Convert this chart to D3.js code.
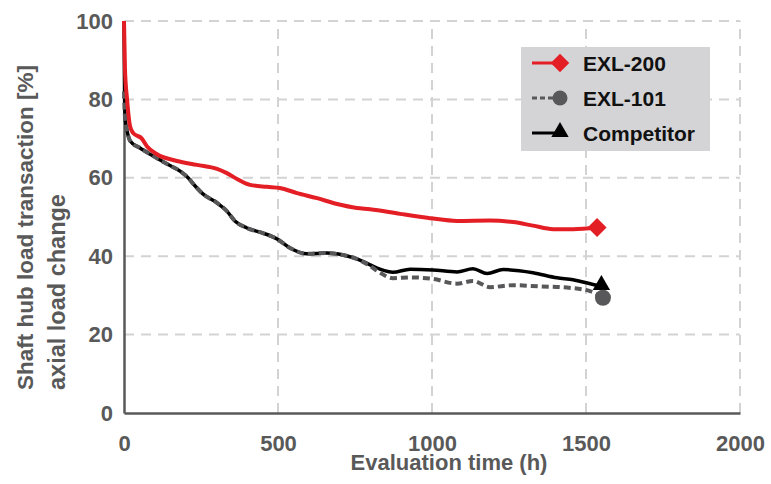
<!DOCTYPE html>
<html>
<head>
<meta charset="utf-8">
<script src="https://cdn.jsdelivr.net/npm/d3@7"></script>
<style>
  body { margin: 0; background: #fff; }
  svg { font-family: "Liberation Sans", Arial, sans-serif; font-weight: bold; }
</style>
</head>
<body>
<div id="chart"></div>
<script>
// Data: [hours, percent]
var exl200 = [[0,100],[3,88],[10,80],[20,73],[30,71.4],[58,70],[75,68],[107,66],[172,64.3],[237,63.3],
  [302,62.3],[334,61.2],[367,59.7],[409,58.2],[464,57.7],[506,57.4],[562,56.1],[627,54.8],[692,53.3],
  [756,52.3],[799,52],[896,50.8],[994,49.7],[1081,49],[1188,49.1],[1263,48.7],[1328,47.8],[1393,46.9],
  [1458,46.9],[1536,47.3]];

var exl101 = [[0,82],[2,77],[4,75],[10,72],[20,69.4],[52,67.6],[94,65.6],[140,63.5],[182,61.7],[208,60],
  [231,57.9],[256,55.9],[302,53.6],[334,51.5],[360,49],[399,47.2],[451,45.9],[497,44.4],[539,42.1],
  [594,40.6],[659,40.8],[711,40.3],[756,39.3],[799,37.5],[831,35.8],[873,34.4],[929,34.6],[1003,34.2],
  [1081,33],[1133,33.7],[1188,32.1],[1263,32.6],[1351,32.3],[1438,32],[1513,31.1],[1555,29.4]];

var competitor = [[0,100],[1,90],[2,80],[4,75],[10,72],[20,69.4],[52,67.6],[94,65.6],[140,63.5],[182,61.7],
  [208,60],[231,57.9],[256,55.9],[302,53.6],[334,51.5],[360,49],[399,47.2],[451,45.9],[497,44.4],
  [539,42.1],[594,40.6],[659,40.8],[711,40.3],[756,39.3],[799,37.8],[831,36.7],[873,35.9],[929,36.7],
  [1003,36.5],[1081,36],[1133,36.8],[1179,35.6],[1231,36.6],[1328,35.8],[1406,34.5],[1458,34],
  [1523,32.8],[1550,32.4]];

var xTicks = [0, 500, 1000, 1500, 2000];
var yTicks = [0, 20, 40, 60, 80, 100];
var legendNames = ["EXL-200", "EXL-101", "Competitor"];

var width = 771, height = 484;
var textGray = "#595959";

var svg = d3.select("#chart").append("svg")
    .attr("width", width)
    .attr("height", height);

var x = d3.scaleLinear().domain([0, 2000]).range([124, 740]);
var y = d3.scaleLinear().domain([0, 100]).range([413, 21]);

// grid
svg.append("g").selectAll("line")
    .data(yTicks.slice(1)).enter()
    .append("line")
    .attr("x1", x(0)).attr("x2", x(2000))
    .attr("y1", function(d) { return y(d); })
    .attr("y2", function(d) { return y(d); })
    .attr("stroke", "#d3d3d3").attr("stroke-width", 2)
    .attr("stroke-dasharray", "10,7");

svg.append("g").selectAll("line")
    .data(xTicks.slice(1)).enter()
    .append("line")
    .attr("x1", function(d) { return x(d); })
    .attr("x2", function(d) { return x(d); })
    .attr("y1", y(0)).attr("y2", y(100))
    .attr("stroke", "#d3d3d3").attr("stroke-width", 2)
    .attr("stroke-dasharray", "10,7");

// axes
var xAxis = svg.append("g")
    .attr("transform", "translate(0," + y(0) + ")")
    .call(d3.axisBottom(x).tickValues(xTicks).tickFormat(d3.format("d")).tickSize(0).tickPadding(22));
var yAxis = svg.append("g")
    .attr("transform", "translate(" + x(0) + ",0)")
    .call(d3.axisLeft(y).tickValues(yTicks).tickFormat(d3.format("d")).tickSize(0).tickPadding(11));

[xAxis, yAxis].forEach(function(g) {
  g.select(".domain").attr("stroke", textGray).attr("stroke-width", 2.5);
  g.selectAll("text")
    .attr("fill", textGray)
    .style("font-size", "22px")
    .style("font-weight", "bold")
    .style("font-family", "'Liberation Sans', Arial, sans-serif");
});

// axis titles
svg.append("text")
    .attr("x", 449).attr("y", 470)
    .attr("text-anchor", "middle")
    .attr("fill", textGray)
    .style("font-size", "22px")
    .text("Evaluation time (h)");

var yTitle = svg.append("text")
    .attr("transform", "translate(33,390) rotate(-90)")
    .attr("fill", textGray)
    .style("font-size", "22.5px");
yTitle.append("tspan").attr("x", 0).attr("y", 0).text("Shaft hub load transaction [%]");
yTitle.append("tspan").attr("x", 0).attr("y", 32).style("font-size", "23.5px").text("axial load change");

// lines
var line = d3.line()
    .x(function(d) { return x(d[0]); })
    .y(function(d) { return y(d[1]); })
    .curve(d3.curveMonotoneX);

svg.append("path").datum(competitor)
    .attr("d", line).attr("fill", "none")
    .attr("stroke", "#000").attr("stroke-width", 3.5);

svg.append("path").datum(exl101)
    .attr("d", line).attr("fill", "none")
    .attr("stroke", "#58585a").attr("stroke-width", 4)
    .attr("stroke-dasharray", "7,4");

svg.append("path").datum(exl200)
    .attr("d", line).attr("fill", "none")
    .attr("stroke", "#e31e24").attr("stroke-width", 4);

// end markers
var lastRed = exl200[exl200.length - 1];
var lastGray = exl101[exl101.length - 1];
var lastBlack = competitor[competitor.length - 1];

svg.append("path")
    .attr("d", d3.symbol().type(d3.symbolTriangle).size(130)())
    .attr("transform", "translate(" + x(lastBlack[0]) + "," + (y(lastBlack[1]) - 1) + ")")
    .attr("fill", "#000");
svg.append("circle")
    .attr("cx", x(lastGray[0])).attr("cy", y(lastGray[1]))
    .attr("r", 8).attr("fill", "#58585a");
svg.append("path")
    .attr("d", d3.symbol().type(d3.symbolSquare).size(180)())
    .attr("transform", "translate(" + x(lastRed[0]) + "," + y(lastRed[1]) + ") rotate(45)")
    .attr("fill", "#e31e24");

// legend
var legend = svg.append("g");
legend.append("rect")
    .attr("x", 521).attr("y", 47)
    .attr("width", 189).attr("height", 104)
    .attr("fill", "#d4d4d6");

var rowY = [63, 98, 133];

// EXL-200
legend.append("line").attr("x1", 532).attr("x2", 558).attr("y1", rowY[0]).attr("y2", rowY[0])
    .attr("stroke", "#e31e24").attr("stroke-width", 3);
legend.append("path")
    .attr("d", d3.symbol().type(d3.symbolSquare).size(170)())
    .attr("transform", "translate(560," + rowY[0] + ") rotate(45)")
    .attr("fill", "#e31e24");
// EXL-101
legend.append("line").attr("x1", 532).attr("x2", 556).attr("y1", rowY[1]).attr("y2", rowY[1])
    .attr("stroke", "#58585a").attr("stroke-width", 3).attr("stroke-dasharray", "5,3");
legend.append("circle").attr("cx", 560).attr("cy", rowY[1]).attr("r", 7.5).attr("fill", "#58585a");
// Competitor
legend.append("line").attr("x1", 532).attr("x2", 558).attr("y1", rowY[2]).attr("y2", rowY[2])
    .attr("stroke", "#000").attr("stroke-width", 3);
legend.append("path")
    .attr("d", d3.symbol().type(d3.symbolTriangle).size(130)())
    .attr("transform", "translate(560," + (rowY[2] - 1) + ")")
    .attr("fill", "#000");

legend.selectAll("text.lbl")
    .data(legendNames).enter()
    .append("text")
    .attr("class", "lbl")
    .attr("x", 583)
    .attr("y", function(d, i) { return rowY[i] + 7.5; })
    .attr("fill", "#111")
    .style("font-size", "21px")
    .text(function(d) { return d; });
</script>
</body>
</html>
